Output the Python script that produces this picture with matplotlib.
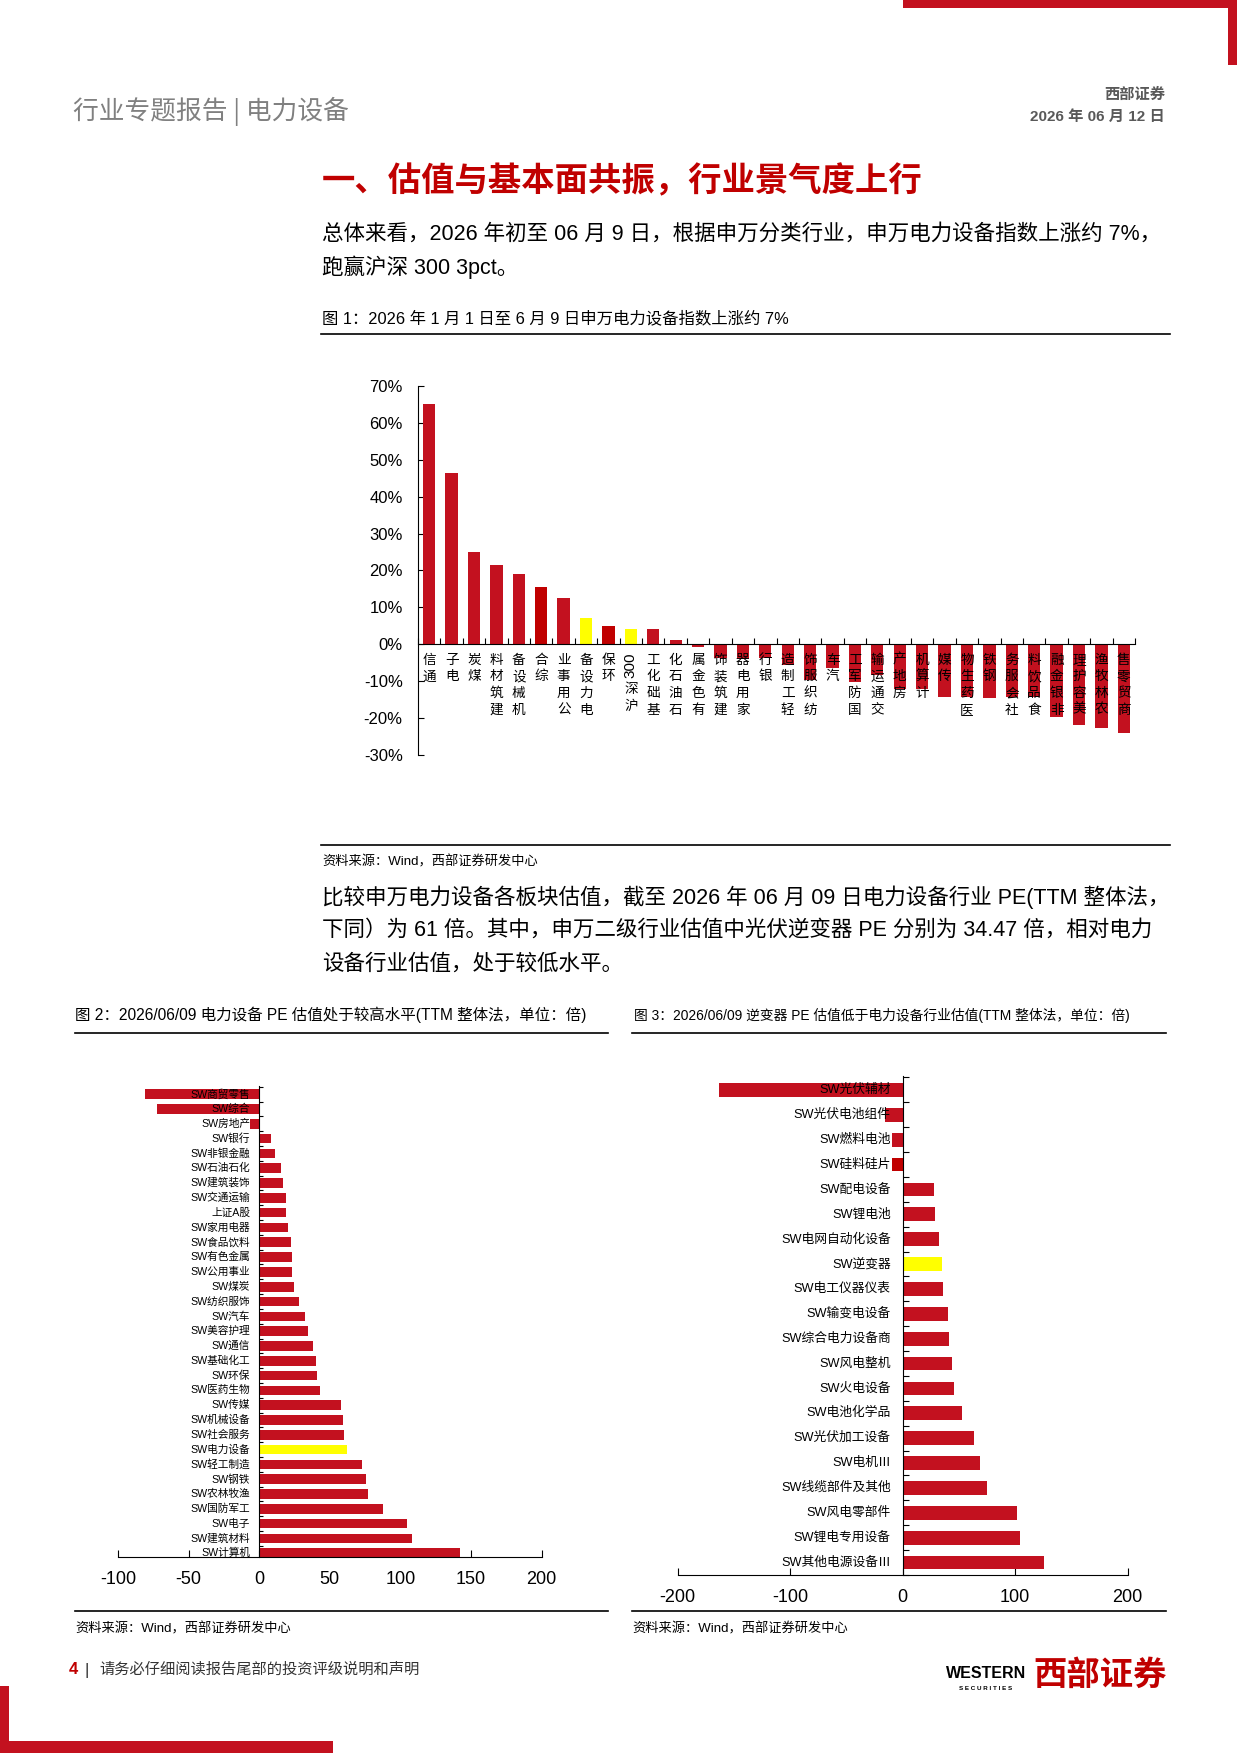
import numpy as np
import matplotlib.pyplot as plt
from matplotlib.lines import Line2D
from matplotlib.patches import Rectangle

plt.rcParams['axes.unicode_minus'] = False

W, H = 1240, 1753
CJK = ['Noto Sans CJK SC']
MIX = ['Liberation Sans', 'Noto Sans CJK SC']
RED = '#C3111F'
DARK_RED = '#C00000'
YELLOW = '#FFFF00'

# === Data ===
# 图1: 申万一级行业涨跌幅 (%)
ind_names = ['通信', '电子', '煤炭', '建筑材料', '机械设备', '综合', '公用事业', '电力设备',
             '环保', '沪深300', '基础化工', '石油石化', '有色金属', '建筑装饰', '家用电器', '银行',
             '轻工制造', '纺织服饰', '汽车', '国防军工', '交通运输', '房地产', '计算机', '传媒',
             '医药生物', '钢铁', '社会服务', '食品饮料', '非银金融', '美容护理', '农林牧渔', '商贸零售']
ind_chg = [65.0, 46.3, 25.1, 21.6, 19.0, 15.4, 12.5, 7.2,
           5.0, 4.2, 4.2, 1.1, -0.8, -3.8, -4.0, -3.8,
           -5.6, -9.7, -6.3, -10.3, -8.3, -12.0, -12.0, -14.2,
           -14.2, -14.6, -14.2, -14.2, -19.8, -21.9, -22.8, -24.1]
ind_yellow = ['电力设备', '沪深300']
ind_dark = ['综合', '环保']

# 图2: 申万一级行业 PE (TTM)
pe_names = ['SW商贸零售', 'SW综合', 'SW房地产', 'SW银行', 'SW非银金融', 'SW石油石化', 'SW建筑装饰',
            'SW交通运输', '上证A股', 'SW家用电器', 'SW食品饮料', 'SW有色金属', 'SW公用事业', 'SW煤炭',
            'SW纺织服饰', 'SW汽车', 'SW美容护理', 'SW通信', 'SW基础化工', 'SW环保', 'SW医药生物',
            'SW传媒', 'SW机械设备', 'SW社会服务', 'SW电力设备', 'SW轻工制造', 'SW钢铁', 'SW农林牧渔',
            'SW国防军工', 'SW电子', 'SW建筑材料', 'SW计算机']
pe_vals = [-80.5, -72.5, -6.4, 8.5, 11.1, 15.8, 16.8,
           18.7, 19.1, 20.3, 22.4, 22.9, 23.1, 24.6,
           28.3, 32.4, 34.7, 38.3, 40.4, 40.6, 43.0,
           57.6, 59.5, 59.8, 62.0, 72.5, 75.8, 76.8,
           87.4, 104.9, 107.9, 142.2]

# 图3: 电力设备二级/三级行业 PE (TTM)
sub_names = ['SW光伏辅材', 'SW光伏电池组件', 'SW燃料电池', 'SW硅料硅片', 'SW配电设备', 'SW锂电池',
             'SW电网自动化设备', 'SW逆变器', 'SW电工仪器仪表', 'SW输变电设备', 'SW综合电力设备商',
             'SW风电整机', 'SW火电设备', 'SW电池化学品', 'SW光伏加工设备', 'SW电机Ⅲ',
             'SW线缆部件及其他', 'SW风电零部件', 'SW锂电专用设备', 'SW其他电源设备Ⅲ']
sub_vals = [-163.0, -15.7, -9.5, -9.2, 28.0, 28.5,
            32.6, 34.5, 35.5, 40.5, 41.0,
            43.5, 45.3, 52.4, 63.4, 69.0,
            75.0, 102.0, 104.0, 126.0]

# === Figure ===
fig = plt.figure(figsize=(W / 100, H / 100), dpi=100)


def ftxt(x, y, s, **kw):
    kw.setdefault('family', MIX)
    kw.setdefault('va', 'center')
    return fig.text(x / W, 1 - y / H, s, **kw)


def hline(x0, x1, y, lw=1.2, color='black'):
    fig.add_artist(Line2D([x0 / W, x1 / W], [1 - y / H, 1 - y / H],
                          transform=fig.transFigure, lw=lw, color=color))


def rect(x0, y0, x1, y1, color=RED):
    fig.add_artist(Rectangle((x0 / W, 1 - y1 / H), (x1 - x0) / W, (y1 - y0) / H,
                             transform=fig.transFigure, color=color, lw=0))


# page decorations
rect(903, 0, 1237, 8)
rect(1228, 0, 1237, 65)
rect(0, 1741, 333, 1753)
rect(0, 1686, 9, 1753)

ftxt(73, 111, '行业专题报告 | 电力设备', size=18.5, color='#808080', family=CJK)
ftxt(1165, 95, '西部证券', size=11, ha='right', weight='bold', color='#595959')
ftxt(1165, 117, '2026 年 06 月 12 日', size=11, ha='right', weight='bold', color='#595959')

ftxt(322, 182, '一、估值与基本面共振，行业景气度上行', size=24, weight='bold', color=DARK_RED)
ftxt(322, 234, '总体来看，2026 年初至 06 月 9 日，根据申万分类行业，申万电力设备指数上涨约 7%，', size=15.5)
ftxt(322, 267, '跑赢沪深 300 3pct。', size=15.5)
ftxt(322, 318, '图 1：2026 年 1 月 1 日至 6 月 9 日申万电力设备指数上涨约 7%', size=11.8)
hline(321, 1170, 334)
hline(321, 1170, 845)
ftxt(322, 862, '资料来源：Wind，西部证券研发中心', size=9.5)

ftxt(322, 897, '比较申万电力设备各板块估值，截至 2026 年 06 月 09 日电力设备行业 PE(TTM 整体法，', size=15.5)
ftxt(322, 930, '下同）为 61 倍。其中，申万二级行业估值中光伏逆变器 PE 分别为 34.47 倍，相对电力', size=15.5)
ftxt(322, 964, '设备行业估值，处于较低水平。', size=15.5)

ftxt(75, 1015, '图 2：2026/06/09 电力设备 PE 估值处于较高水平(TTM 整体法，单位：倍)', size=11.2)
ftxt(634, 1015, '图 3：2026/06/09 逆变器 PE 估值低于电力设备行业估值(TTM 整体法，单位：倍)', size=9.9)
hline(75, 608, 1033)
hline(632, 1166, 1033)
hline(75, 608, 1611)
hline(632, 1166, 1611)
ftxt(75, 1629, '资料来源：Wind，西部证券研发中心', size=9.5)
ftxt(632, 1629, '资料来源：Wind，西部证券研发中心', size=9.5)

ftxt(69, 1670, '4', size=12, weight='bold', color=DARK_RED)
ftxt(84, 1670, '|', size=12, color='#333333')
ftxt(99, 1670, '请务必仔细阅读报告尾部的投资评级说明和声明', size=11, color='#333333')

ftxt(986, 1673, 'WESTERN', size=11.5, weight='bold', ha='center', color='black')
ftxt(986, 1689, 'S E C U R I T I E S', size=4.5, weight='bold', ha='center', color='black')
ftxt(1033, 1676, '西部证券', size=24, weight='bold', color=DARK_RED)

# === 图1 ===
ax1 = fig.add_axes([418 / W, 1 - 755 / H, (1135 - 418) / W, (755 - 386) / H])
x = np.arange(len(ind_names))
colors = [YELLOW if n in ind_yellow else DARK_RED if n in ind_dark else RED for n in ind_names]
ax1.bar(x, ind_chg, width=0.55, color=colors, zorder=2)
ax1.set_xlim(-0.5, len(ind_names) - 0.5)
ax1.set_ylim(-30, 70)
ax1.spines['top'].set_visible(False)
ax1.spines['right'].set_visible(False)
ax1.spines['bottom'].set_position(('data', 0))
ax1.spines['bottom'].set_zorder(3)
ax1.set_yticks(np.arange(-30, 71, 10))
ax1.set_yticklabels([f'{v}%' for v in range(-30, 71, 10)], family=MIX)
ax1.tick_params(axis='y', direction='in', length=4, pad=11, labelsize=12)
ax1.set_xticks(np.arange(len(ind_names) + 1) - 0.5)
ax1.set_xticklabels([])
ax1.tick_params(axis='x', direction='in', length=4)

for i, name in enumerate(ind_names):
    # vertical label, read bottom-to-top, CJK chars upright
    tokens = []
    for ch in name:
        if ch.isdigit() and tokens and tokens[-1].isdigit():
            tokens[-1] += ch
        else:
            tokens.append(ch)
    off = 6
    for tok in tokens[::-1]:
        if tok.isdigit():
            ax1.annotate(tok, (i, 0), xytext=(0, -off), textcoords='offset points',
                         ha='center', va='top', rotation=90, fontsize=11, family=MIX, zorder=4)
            off += len(tok) * 6.3 + 2
        else:
            ax1.annotate(tok, (i, 0), xytext=(0, -off), textcoords='offset points',
                         ha='center', va='top', fontsize=9.8, family=CJK, zorder=4)
            off += 12

# === 图2 ===
ax2 = fig.add_axes([117.9 / W, 1 - 1557 / H, 423.8 / W, (1557 - 1086) / H])
y2 = np.arange(len(pe_names))
c2 = [YELLOW if n == 'SW电力设备' else RED for n in pe_names]
ax2.barh(y2, pe_vals, height=0.65, color=c2, zorder=2)
ax2.set_xlim(-100, 200)
ax2.set_ylim(len(pe_names) - 0.75, -0.55)
ax2.spines['top'].set_visible(False)
ax2.spines['right'].set_visible(False)
ax2.spines['left'].set_position(('data', 0))
ax2.spines['left'].set_zorder(3)
ax2.set_xticks([-100, -50, 0, 50, 100, 150, 200])
ax2.tick_params(axis='x', direction='in', length=5, pad=10, labelsize=13)
for lb in ax2.get_xticklabels():
    lb.set_family(MIX)
ax2.set_yticks(np.arange(len(pe_names)) - 0.5)
ax2.set_yticklabels([])
ax2.tick_params(axis='y', direction='in', length=3)
for i, name in enumerate(pe_names):
    ax2.text(-6.4, i, name, ha='right', va='center', fontsize=7.7, family=MIX, zorder=4)

# === 图3 ===
ax3 = fig.add_axes([677.7 / W, 1 - 1575 / H, 450 / W, (1575 - 1076) / H])
y3 = np.arange(len(sub_names))
c3 = [YELLOW if n == 'SW逆变器' else DARK_RED if n == 'SW硅料硅片' else RED for n in sub_names]
ax3.barh(y3, sub_vals, height=0.55, color=c3, zorder=2)
ax3.set_xlim(-200, 200)
ax3.set_ylim(len(sub_names) - 0.5, -0.56)
ax3.spines['top'].set_visible(False)
ax3.spines['right'].set_visible(False)
ax3.spines['left'].set_position(('data', 0))
ax3.spines['left'].set_zorder(3)
ax3.set_xticks([-200, -100, 0, 100, 200])
ax3.tick_params(axis='x', direction='in', length=5, pad=10, labelsize=13)
for lb in ax3.get_xticklabels():
    lb.set_family(MIX)
ax3.set_yticks(np.arange(len(sub_names) + 1) - 0.5)
ax3.set_yticklabels([])
ax3.tick_params(axis='y', direction='in', length=4)
for i, name in enumerate(sub_names):
    ax3.text(-10.5, i, name, ha='right', va='center', fontsize=9.2, family=MIX, zorder=4)

fig.savefig('out.png', dpi=100)
